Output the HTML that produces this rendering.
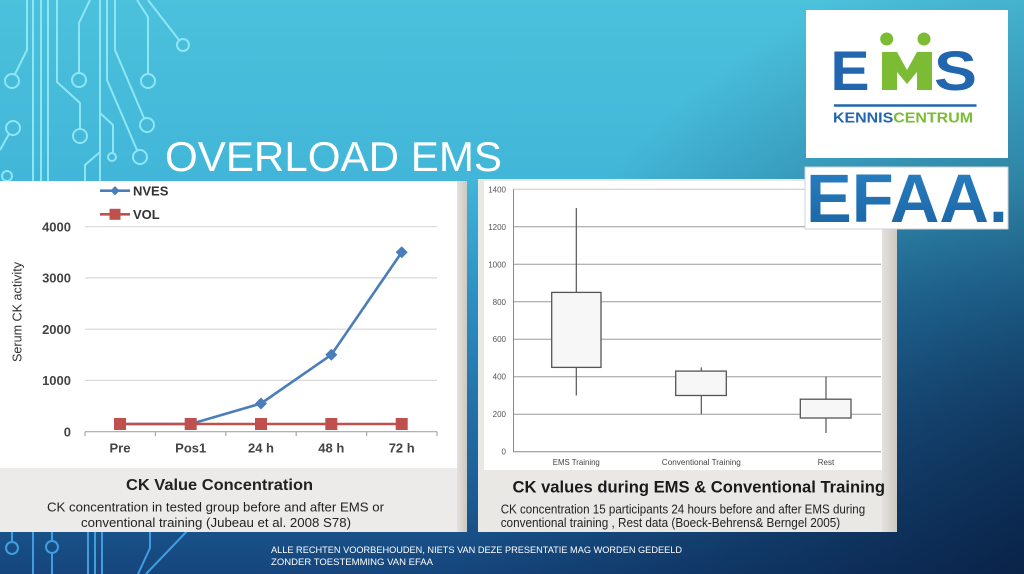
<!DOCTYPE html>
<html>
<head>
<meta charset="utf-8">
<style>
html,body{margin:0;padding:0;width:1024px;height:574px;overflow:hidden;background:#1a5a8e;}
svg{display:block;}
text{font-family:"Liberation Sans", Arial, sans-serif;}
</style>
</head>
<body>
<svg width="1024" height="574" viewBox="0 0 1024 574" xmlns="http://www.w3.org/2000/svg">
  <defs>
    <linearGradient id="bg" x1="0" y1="0" x2="0" y2="574" gradientUnits="userSpaceOnUse">
      <stop offset="0" stop-color="#4bc1dc"/>
      <stop offset="0.31" stop-color="#42b6d8"/>
      <stop offset="0.52" stop-color="#2d8fc0"/>
      <stop offset="0.72" stop-color="#236fa6"/>
      <stop offset="0.87" stop-color="#1b5c92"/>
      <stop offset="1" stop-color="#15457c"/>
    </linearGradient>
    <radialGradient id="dark" cx="1150" cy="620" r="700" gradientUnits="userSpaceOnUse">
      <stop offset="0" stop-color="#061838" stop-opacity="0.95"/>
      <stop offset="0.5" stop-color="#061838" stop-opacity="0.45"/>
      <stop offset="1" stop-color="#061838" stop-opacity="0"/>
    </radialGradient>
    <linearGradient id="strip" x1="0" y1="0" x2="1" y2="0">
      <stop offset="0" stop-color="#e4e1dd"/>
      <stop offset="1" stop-color="#cdc8c2"/>
    </linearGradient>
    <linearGradient id="efaa" x1="0" y1="0" x2="0" y2="1">
      <stop offset="0" stop-color="#2a82c4"/>
      <stop offset="1" stop-color="#1a62a2"/>
    </linearGradient>
  </defs>

  <!-- background -->
  <rect x="0" y="0" width="1024" height="574" fill="url(#bg)"/>
  <rect x="0" y="0" width="1024" height="574" fill="url(#dark)"/>

  <!-- circuit lines top-left -->
  <g fill="none" stroke="#8ee6f4" stroke-width="2">
    <line x1="33" y1="0" x2="33" y2="182"/>
    <line x1="41" y1="0" x2="41" y2="182"/>
    <line x1="48" y1="0" x2="48" y2="182"/>
    <line x1="100" y1="0" x2="100" y2="182"/>
    <path d="M27,0 L27,50 L15,74"/>
    <circle cx="12" cy="81" r="7"/>
    <circle cx="13" cy="128" r="7"/>
    <path d="M9,134 L0,150"/>
    <circle cx="7" cy="176" r="5"/>
    <path d="M57,0 L57,82 L80,103 L80,129"/>
    <circle cx="80" cy="136" r="7"/>
    <path d="M90,0 L79,23 L79,73"/>
    <circle cx="79" cy="80" r="7"/>
    <path d="M115,0 L115,50 L144,118"/>
    <circle cx="147" cy="125" r="7"/>
    <path d="M107,0 L107,80 L137,150"/>
    <circle cx="140" cy="157" r="7"/>
    <path d="M100,113 L113,125 L113,153"/>
    <circle cx="112" cy="157" r="4"/>
    <path d="M100,152 L85,165 L85,182"/>
    <path d="M137,0 L148,17 L148,74"/>
    <circle cx="148" cy="81" r="7"/>
    <path d="M148,0 L179,40"/>
    <circle cx="183" cy="45" r="6"/>
  </g>

  <!-- circuit lines bottom-left -->
  <g fill="none" stroke="#3f9de0" stroke-width="2">
    <path d="M12,531 L12,542"/>
    <circle cx="12" cy="548" r="6"/>
    <line x1="33" y1="531" x2="33" y2="574"/>
    <path d="M52,531 L52,541"/>
    <circle cx="52" cy="547" r="6"/>
    <path d="M52,553 L52,574"/>
    <line x1="88" y1="531" x2="88" y2="574"/>
    <line x1="95" y1="531" x2="95" y2="574"/>
    <line x1="102" y1="531" x2="102" y2="574"/>
    <path d="M150,531 L150,548 L138,574"/>
    <path d="M190,528 L146,574"/>
  </g>

  <!-- title -->
  <text x="165" y="171" font-size="42" fill="#ffffff" textLength="337" lengthAdjust="spacingAndGlyphs">OVERLOAD EMS</text>

  <!-- ================= LEFT PANEL ================= -->
  <rect x="0" y="181" width="467" height="351" fill="#ecebe9"/>
  <rect x="0" y="181" width="457" height="287" fill="#ffffff"/>
  <rect x="457" y="181" width="10" height="351" fill="url(#strip)"/>

  <!-- gridlines -->
  <g stroke="#d9d9d9" stroke-width="1.2">
    <line x1="85" y1="226.7" x2="437" y2="226.7"/>
    <line x1="85" y1="277.9" x2="437" y2="277.9"/>
    <line x1="85" y1="329.2" x2="437" y2="329.2"/>
    <line x1="85" y1="380.4" x2="437" y2="380.4"/>
  </g>
  <g stroke="#a6a6a6" stroke-width="1.2">
    <line x1="85" y1="431.7" x2="437" y2="431.7"/>
    <line x1="85" y1="431.7" x2="85" y2="436"/>
    <line x1="155.4" y1="431.7" x2="155.4" y2="436"/>
    <line x1="225.8" y1="431.7" x2="225.8" y2="436"/>
    <line x1="296.2" y1="431.7" x2="296.2" y2="436"/>
    <line x1="366.6" y1="431.7" x2="366.6" y2="436"/>
    <line x1="437" y1="431.7" x2="437" y2="436"/>
  </g>

  <!-- y tick labels -->
  <g font-size="13" font-weight="bold" fill="#444" text-anchor="end">
    <text x="71" y="231.4">4000</text>
    <text x="71" y="282.6">3000</text>
    <text x="71" y="333.9">2000</text>
    <text x="71" y="385.1">1000</text>
    <text x="71" y="436.4">0</text>
  </g>
  <!-- x labels -->
  <g font-size="13" font-weight="bold" fill="#444" text-anchor="middle">
    <text x="120" y="452.5">Pre</text>
    <text x="190.7" y="452.5">Pos1</text>
    <text x="261" y="452.5">24 h</text>
    <text x="331.3" y="452.5">48 h</text>
    <text x="401.7" y="452.5">72 h</text>
  </g>
  <!-- y axis title -->
  <text transform="translate(21.5,312) rotate(-90)" font-size="13" fill="#333" text-anchor="middle" textLength="100" lengthAdjust="spacingAndGlyphs">Serum CK activity</text>

  <!-- series -->
  <polyline points="120,424 190.7,424 261,403.5 331.3,354.8 401.7,252.3" fill="none" stroke="#4a7ebb" stroke-width="2.6"/>
  <g fill="#4a7ebb">
    <polygon points="261,397.5 267,403.5 261,409.5 255,403.5"/>
    <polygon points="331.3,348.8 337.3,354.8 331.3,360.8 325.3,354.8"/>
    <polygon points="401.7,246.3 407.7,252.3 401.7,258.3 395.7,252.3"/>
  </g>
  <line x1="120" y1="424" x2="401.7" y2="424" stroke="#c0504d" stroke-width="2.6"/>
  <g fill="#c0504d">
    <rect x="114" y="418" width="12" height="12"/>
    <rect x="184.7" y="418" width="12" height="12"/>
    <rect x="255" y="418" width="12" height="12"/>
    <rect x="325.3" y="418" width="12" height="12"/>
    <rect x="395.7" y="418" width="12" height="12"/>
  </g>

  <!-- legend -->
  <line x1="100" y1="190.7" x2="130" y2="190.7" stroke="#4a7ebb" stroke-width="2.6"/>
  <polygon points="115,186 119.5,190.7 115,195.4 110.5,190.7" fill="#4a7ebb"/>
  <text x="133" y="195.5" font-size="13" font-weight="bold" fill="#333">NVES</text>
  <line x1="100" y1="214.3" x2="130" y2="214.3" stroke="#c0504d" stroke-width="2.6"/>
  <rect x="109.5" y="208.8" width="11" height="11" fill="#c0504d"/>
  <text x="133" y="219" font-size="13" font-weight="bold" fill="#333">VOL</text>

  <!-- caption -->
  <text x="126" y="490" font-size="16" font-weight="bold" fill="#222" textLength="187" lengthAdjust="spacingAndGlyphs">CK Value Concentration</text>
  <text x="47" y="511.7" font-size="13" fill="#222" textLength="337" lengthAdjust="spacingAndGlyphs">CK concentration in tested group before and after EMS or</text>
  <text x="81" y="527" font-size="13" fill="#222" textLength="270" lengthAdjust="spacingAndGlyphs">conventional training (Jubeau et al. 2008 S78)</text>

  <!-- ================= RIGHT PANEL ================= -->
  <rect x="478" y="179" width="419" height="353" fill="#eae8e5"/>
  <rect x="484" y="181" width="398" height="289" fill="#ffffff"/>
  <rect x="882" y="179" width="15" height="353" fill="url(#strip)"/>

  <g stroke="#9c9c9c" stroke-width="1">
    <line x1="513" y1="189.3" x2="881" y2="189.3" stroke="#c8c8c8"/>
    <line x1="513" y1="226.8" x2="881" y2="226.8"/>
    <line x1="513" y1="264.3" x2="881" y2="264.3"/>
    <line x1="513" y1="301.8" x2="881" y2="301.8"/>
    <line x1="513" y1="339.2" x2="881" y2="339.2"/>
    <line x1="513" y1="376.7" x2="881" y2="376.7"/>
    <line x1="513" y1="414.2" x2="881" y2="414.2"/>
    <line x1="513" y1="451.7" x2="881" y2="451.7" stroke="#8a8a8a"/>
    <line x1="513.5" y1="189.3" x2="513.5" y2="451.7" stroke="#8a8a8a"/>
  </g>
  <g font-size="8" fill="#555" text-anchor="end">
    <text x="506" y="192.3">1400</text>
    <text x="506" y="229.8">1200</text>
    <text x="506" y="267.3">1000</text>
    <text x="506" y="304.8">800</text>
    <text x="506" y="342.2">600</text>
    <text x="506" y="379.7">400</text>
    <text x="506" y="417.2">200</text>
    <text x="506" y="454.7">0</text>
  </g>
  <g font-size="8" fill="#444" text-anchor="middle">
    <text x="576.3" y="465" textLength="47" lengthAdjust="spacingAndGlyphs">EMS Training</text>
    <text x="701.3" y="465" textLength="79" lengthAdjust="spacingAndGlyphs">Conventional Training</text>
    <text x="826" y="465">Rest</text>
  </g>

  <!-- boxes -->
  <g stroke="#555" stroke-width="1.2">
    <line x1="576.3" y1="208" x2="576.3" y2="395.5"/>
    <line x1="701.3" y1="367.4" x2="701.3" y2="414.2"/>
    <line x1="826" y1="376.7" x2="826" y2="433"/>
  </g>
  <g stroke="#555" stroke-width="1.3" fill="#f7f7f7">
    <rect x="551.7" y="292.4" width="49.3" height="75"/>
    <rect x="675.7" y="371.1" width="50.6" height="24.4"/>
    <rect x="800.3" y="399.2" width="50.7" height="18.8"/>
  </g>

  <!-- caption right -->
  <text x="512.5" y="492.3" font-size="17" font-weight="bold" fill="#1a1a1a" textLength="372.5" lengthAdjust="spacingAndGlyphs">CK values during EMS &amp; Conventional Training</text>
  <text x="500.7" y="513.5" font-size="13" fill="#222" textLength="364.5" lengthAdjust="spacingAndGlyphs">CK concentration 15 participants 24 hours before and after EMS during</text>
  <text x="500.7" y="527" font-size="13" fill="#222" textLength="339.5" lengthAdjust="spacingAndGlyphs">conventional training , Rest  data (Boeck-Behrens&amp; Berngel 2005)</text>

  <!-- ================= LOGOS ================= -->
  <rect x="806" y="10" width="202" height="148" fill="#ffffff"/>
  <text x="830.5" y="90" font-size="56" font-weight="bold" fill="#2366b0" textLength="39" lengthAdjust="spacingAndGlyphs">E</text>
  <g fill="#7cbc35">
    <polygon points="882,90 882,52 897,52 907,70 917,52 932,52 932,90 917,90 917,72 907,84 897,72 897,90"/>
    <circle cx="886.7" cy="39" r="6.5"/>
    <circle cx="924" cy="39" r="6.5"/>
  </g>
  <text x="934" y="90" font-size="56" font-weight="bold" fill="#2366b0" textLength="43" lengthAdjust="spacingAndGlyphs">S</text>
  <line x1="834" y1="105.5" x2="976.5" y2="105.5" stroke="#2366b0" stroke-width="2.4"/>
  <text x="833" y="122.3" font-size="15" font-weight="bold" textLength="140" lengthAdjust="spacingAndGlyphs"><tspan fill="#2366b0">KENNIS</tspan><tspan fill="#7cbc35">CENTRUM</tspan></text>

  <rect x="805" y="167" width="203" height="62" fill="#ffffff" stroke="#d0d0d0" stroke-width="1"/>
  <text x="806" y="222" font-size="69" font-weight="bold" fill="url(#efaa)" textLength="202" lengthAdjust="spacingAndGlyphs">EFAA.</text>

  <!-- footer -->
  <text x="271" y="553" font-size="9.5" fill="#ffffff" textLength="411" lengthAdjust="spacingAndGlyphs">ALLE RECHTEN VOORBEHOUDEN, NIETS VAN DEZE PRESENTATIE MAG  WORDEN GEDEELD</text>
  <text x="271" y="565" font-size="9.5" fill="#ffffff" textLength="162" lengthAdjust="spacingAndGlyphs">ZONDER TOESTEMMING VAN EFAA</text>
</svg>
</body>
</html>
